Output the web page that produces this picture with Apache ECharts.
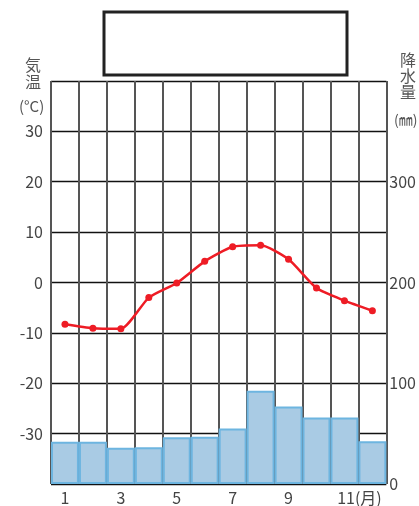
<!DOCTYPE html>
<html><head><meta charset="utf-8">
<script src="https://cdn.jsdelivr.net/npm/echarts@6/dist/echarts.min.js"></script>
<style>html,body{margin:0;padding:0;background:#fff}#c{width:419px;height:506px}</style>
</head><body><div id="c"></div>
<script>
const months = ['1','2','3','4','5','6','7','8','9','10','11','12'];
const temperature = [-8.3, -9.1, -9.2, -3.0, -0.1, 4.2, 7.1, 7.4, 4.6, -1.1, -3.6, -5.6];
const precipitation = [42, 42, 36, 36.5, 46.5, 47, 55, 92.5, 77, 66, 66, 42.5];
const tempTicks = {min: -40, max: 40, step: 10};
const precTicks = {min: 0, max: 400, step: 100};

const FONT = '"Noto Sans CJK JP", "Noto Sans", sans-serif';
const chart = echarts.init(document.getElementById('c'), null, {renderer: 'canvas'});
chart.setOption({
  animation: false,
  backgroundColor: '#fff',
  textStyle: {fontFamily: FONT},
  grid: {left: 51, right: 27, top: 81, bottom: 17, containLabel: false},
  xAxis: {
    type: 'category', data: months, boundaryGap: true,
    axisLine: {show: false}, axisTick: {show: false},
    splitLine: {show: true, interval: 0, lineStyle: {color: '#555', width: 2}},
    axisLabel: {
      interval: 1, margin: 6, color: '#444', fontSize: 16, fontFamily: FONT,
      formatter: function (v, i) { return i === 10 ? '{a|11(月)}' : v; },
      rich: {a: {fontSize: 16, color: '#444', fontFamily: FONT, padding: [0, 0, 0, 30]}}
    }
  },
  yAxis: [
    {
      type: 'value', min: tempTicks.min, max: tempTicks.max, interval: tempTicks.step,
      axisLine: {show: false}, axisTick: {show: false},
      splitLine: {show: true, lineStyle: {color: '#111', width: 1.3}},
      axisLabel: {showMinLabel: false, showMaxLabel: false, margin: 8, color: '#444', fontSize: 16, fontFamily: FONT}
    },
    {
      type: 'value', min: precTicks.min, max: precTicks.max, interval: precTicks.step, position: 'right',
      axisLine: {show: false}, axisTick: {show: false}, splitLine: {show: false},
      axisLabel: {showMaxLabel: false, margin: 3, color: '#444', fontSize: 16, fontFamily: FONT}
    }
  ],
  series: [
    {
      type: 'bar', yAxisIndex: 1, data: precipitation, barCategoryGap: '0%',
      itemStyle: {color: '#a9cbe4', borderColor: '#6db5e0', borderWidth: 2}
    },
    {
      type: 'line', yAxisIndex: 0, data: temperature, smooth: 0.2, z: 5,
      symbol: 'circle', symbolSize: 7,
      lineStyle: {color: '#ee1c25', width: 2.5},
      itemStyle: {color: '#ee1c25'}
    }
  ],
  graphic: [
    {type: 'rect', shape: {x: 104, y: 12, width: 243, height: 63}, style: {fill: '#fff', stroke: '#222', lineWidth: 3}},
    {type: 'text', left: 25, top: 56, style: {text: '気\n温', font: '16px ' + FONT, fill: '#555', lineHeight: 17}},
    {type: 'text', left: 19, top: 99, style: {text: '(°C)', font: '15px ' + FONT, fill: '#555'}},
    {type: 'text', left: 400, top: 52, style: {text: '降\n水\n量', font: '16px ' + FONT, fill: '#555', lineHeight: 16}},
    {type: 'text', left: 394, top: 113, style: {text: '(㎜)', font: '14px ' + FONT, fill: '#555'}}
  ]
});
</script></body></html>
